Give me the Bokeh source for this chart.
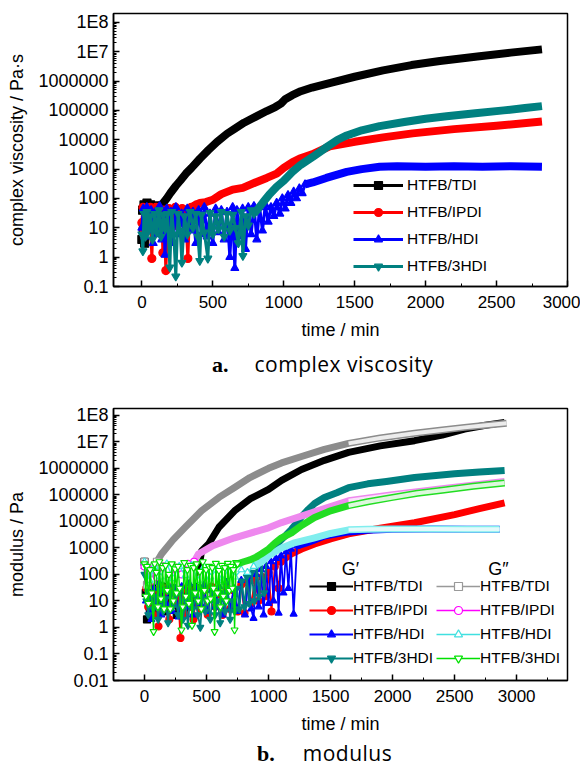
from bokeh.plotting import figure
from bokeh.models import FixedTicker, CustomJSTickFormatter, Legend, LegendItem, Label, Range1d, Div
from bokeh.layouts import column
from bokeh.embed import file_html
from bokeh.resources import INLINE

FONT = "Liberation Sans"
LEG_FONT = "Liberation Sans"

# ---------------- axis ticks / texts ----------------
x_ticks = [0, 500, 1000, 1500, 2000, 2500, 3000]
x_minor = [-250, 250, 750, 1250, 1750, 2250, 2750, 3250]
ya_ticks = [0.1, 1, 10, 100, 1000, 10000, 100000, 1000000, 10000000, 100000000]
ya_labels = ["0.1", "1", "10", "100", "1000", "10000", "100000", "1000000", "1E7", "1E8"]
yb_ticks = [0.01] + ya_ticks
yb_labels = ["0.01"] + ya_labels

series_names = ["HTFB/TDI", "HTFB/IPDI", "HTFB/HDI", "HTFB/3HDI"]
caption_a = ("a.", "complex viscosity")
caption_b = ("b.", "modulus")

# ---------------- panel a : complex viscosity ----------------
tdi_a_noise_t = [0, 5, 10, 15, 20, 25, 30, 36, 42, 48, 55, 62, 70, 78, 86, 95, 105, 115, 125]
tdi_a_noise_v = [4, 40, 8, 60, 3, 50, 15, 70, 10, 45, 25, 60, 20, 50, 35, 55, 40, 50, 55]
tdi_a_t = [125, 150, 175, 200, 240, 270, 310, 350, 410, 470, 530, 600, 650, 720, 800, 880, 940, 980,
           1010, 1060, 1120, 1200, 1330, 1500, 1700, 1900, 2100, 2380, 2600, 2820]
tdi_a_v = [55, 70, 100, 150, 270, 400, 700, 1100, 2300, 4500, 8500, 16000, 23000, 38000, 60000, 95000,
           130000, 170000, 240000, 330000, 450000, 600000, 870000, 1400000, 2300000, 3500000, 4800000,
           7000000, 9300000, 12000000]

ipdi_a_noise_t = [0, 8, 16, 24, 32, 40, 50, 60, 70, 80, 90, 100, 110, 120, 130, 140, 148, 156, 169, 180,
                  190, 200, 212, 224, 236, 248, 260, 272, 284, 296, 308, 324, 336, 348, 360, 372, 385]
ipdi_a_noise_v = [15, 50, 8, 40, 12, 45, 20, 50, 0.9, 30, 10, 50, 20, 40, 8, 35, 1.4, 40, 0.35, 15,
                  45, 10, 35, 20, 50, 12, 40, 25, 45, 15, 40, 0.9, 35, 50, 40, 55, 60]
ipdi_a_t = [385, 408, 450, 500, 560, 640, 711, 800, 880, 950, 1000, 1060, 1113, 1200, 1324, 1500, 1700,
            1908, 2200, 2500, 2820]
ipdi_a_v = [60, 70, 75, 90, 140, 200, 230, 350, 500, 700, 1100, 1700, 2300, 3200, 6000, 8500, 12000,
            16500, 23000, 30000, 42000]

hdi_a_noise_t = [0, 10, 20, 35, 50, 65, 80, 95, 110, 125, 140, 155, 163, 175, 190, 205, 220, 240, 260, 280,
                 300, 320, 340, 360, 380, 400, 420, 440, 460, 480, 500, 520, 540, 560, 580, 600, 620, 640,
                 655, 670, 690, 710, 730, 750, 770, 790, 810, 830, 850, 870, 890, 910, 930, 950, 972, 990,
                 1010, 1030, 1050, 1070, 1090, 1110, 1130, 1150]
hdi_a_noise_v = [10, 45, 5, 50, 8, 40, 3, 35, 6, 55, 4, 30, 1.2, 45, 7, 35, 3, 50, 6, 30,
                 4, 45, 8, 35, 3, 40, 6, 50, 5, 30, 3, 45, 7, 40, 4, 35, 1.0, 50,
                 0.42, 40, 5, 45, 1.9, 50, 6, 55, 4, 50, 8, 60, 16, 50, 25, 70, 30, 100,
                 45, 130, 70, 170, 100, 220, 150, 300]
hdi_a_t = [1150, 1204, 1300, 1444, 1550, 1676, 1800, 2000, 2200, 2400, 2600, 2820]
hdi_a_v = [300, 350, 500, 800, 1000, 1200, 1250, 1200, 1250, 1200, 1250, 1200]

hdi3_a_noise_t = [0, 7, 15, 25, 35, 45, 60, 75, 90, 105, 120, 135, 150, 165, 180, 197, 210, 225, 239, 255,
                  270, 282, 300, 320, 340, 360, 380, 395, 408, 420, 440, 465, 480, 500, 520, 540, 560, 580,
                  600, 620, 640, 660, 680, 700, 712, 730, 750, 770, 790]
hdi3_a_noise_v = [6, 1.6, 30, 5, 35, 8, 25, 4, 30, 7, 40, 5, 28, 9, 30, 0.45, 35, 6, 0.22, 30,
                  8, 0.65, 25, 6, 35, 10, 30, 5, 0.75, 28, 7, 0.9, 32, 6, 25, 9, 35, 5,
                  30, 8, 28, 10, 3, 35, 1.1, 25, 12, 40, 30]
hdi3_a_t = [790, 820, 860, 900, 950, 1000, 1060, 1120, 1204, 1300, 1380, 1444, 1550, 1676, 1850, 2000,
            2148, 2350, 2550, 2700, 2820]
hdi3_a_v = [30, 45, 80, 140, 250, 400, 800, 1400, 2600, 5500, 10000, 14000, 21000, 29000, 40000, 52000,
            63000, 80000, 100000, 120000, 140000]

# ---------------- panel b : modulus ----------------
# G' (storage modulus)
tdi_g1_noise_t = [0, 10, 20, 30, 45, 60, 80, 100, 120, 140, 160, 180, 200, 230, 260, 290, 320, 350, 380, 410, 440]
tdi_g1_noise_v = [300, 20, 2, 40, 5, 30, 3, 25, 8, 35, 4, 20, 6, 30, 3, 25, 5, 20, 8, 30, 200]
tdi_g1_t = [440, 460, 516, 600, 726, 850, 1000, 1105, 1266, 1450, 1645, 1900, 2177, 2400, 2580, 2750, 2903]
tdi_g1_v = [200, 770, 1400, 6000, 25000, 70000, 160000, 350000, 900000, 2000000, 4000000, 7000000,
            11000000, 18000000, 30000000, 42000000, 54000000]

ipdi_g1_noise_t = [0, 15, 30, 50, 70, 90, 113, 130, 150, 175, 200, 225, 250, 270, 290, 310, 330, 350, 375, 395,
                   420, 450, 480, 510, 540, 570, 600, 630, 660, 690, 720, 750, 780, 806, 830, 860, 890, 920,
                   950, 980, 1000, 1024, 1050, 1081, 1100]
ipdi_g1_noise_v = [300, 30, 6, 40, 3, 25, 1.1, 35, 5, 30, 2, 25, 8, 20, 0.4, 30, 3, 25, 6, 2,
                   30, 5, 25, 3, 35, 6, 20, 3, 30, 5, 25, 4, 40, 3.5, 50, 8, 60, 10,
                   80, 15, 120, 4, 200, 30, 300]
ipdi_g1_t = [1100, 1185, 1266, 1371, 1500, 1645, 1900, 2177, 2500, 2700, 2903]
ipdi_g1_v = [300, 600, 900, 1400, 2200, 3400, 5500, 8900, 18000, 30000, 50000]

hdi_g1_noise_t = [0, 12, 25, 40, 56, 75, 95, 115, 135, 155, 175, 200, 225, 250, 275, 300, 330, 360, 390, 420,
                  450, 480, 510, 540, 570, 600, 630, 660, 690, 720, 750, 780, 810, 840, 860, 879, 900, 920,
                  940, 960, 980, 1000, 1020, 1040, 1060, 1081, 1100, 1120, 1140, 1160, 1180, 1202, 1230]
hdi_g1_noise_v = [200, 10, 40, 4, 2, 30, 6, 50, 3, 25, 8, 40, 4, 30, 2.5, 35, 6, 45, 3, 30,
                  8, 40, 4, 25, 6, 35, 3, 50, 5, 30, 4, 60, 3, 80, 5, 2.2, 100, 6,
                  150, 3, 200, 8, 300, 10, 400, 3.5, 500, 20, 700, 30, 900, 3.2, 1200]
hdi_g1_t = [1230, 1300, 1371, 1450, 1550, 1645, 1800, 2000, 2300, 2600, 2863]
hdi_g1_v = [1200, 1500, 2000, 2800, 3400, 4000, 4600, 5000, 5100, 5000, 5000]

hdi3_g1_noise_t = [0, 15, 30, 50, 70, 90, 110, 130, 150, 170, 190, 210, 230, 250, 270, 290, 310, 330, 350, 370,
                   390, 410, 430, 450, 470, 490, 510, 530, 550, 570, 590, 610, 630, 650, 670, 690, 710, 726,
                   745, 765, 785, 806, 825, 845, 865, 885, 905, 925, 944, 965, 985]
hdi3_g1_noise_v = [100, 10, 3, 20, 5, 15, 2, 25, 4, 12, 1.5, 20, 6, 15, 3, 25, 2, 10, 1.2, 20,
                   5, 15, 3, 1.0, 25, 4, 12, 2, 18, 3, 10, 1.5, 20, 4, 30, 2, 10, 4,
                   30, 5, 56, 6, 80, 8, 120, 10, 200, 15, 300, 20, 500]
hdi3_g1_t = [985, 1000, 1030, 1060, 1100, 1140, 1185, 1230, 1266, 1320, 1371, 1450, 1550, 1645, 1800, 1950,
             2177, 2350, 2500, 2700, 2903]
hdi3_g1_v = [500, 600, 900, 1300, 2000, 3000, 5000, 9000, 15000, 28000, 47000, 80000, 120000, 186000,
             260000, 320000, 450000, 540000, 620000, 720000, 830000]

# G'' (loss modulus)
tdi_g2_noise_t = [0, 20, 40, 60, 80, 100]
tdi_g2_noise_v = [300, 40, 150, 60, 200, 300]
tdi_g2_t = [100, 137, 230, 323, 460, 600, 726, 850, 1000, 1105, 1266, 1450, 1645, 1900, 2177, 2400, 2580,
            2750, 2919]
tdi_g2_v = [300, 590, 2000, 5700, 25000, 80000, 190000, 450000, 1000000, 1600000, 2800000, 5200000,
            8700000, 14000000, 21000000, 28000000, 35000000, 42000000, 50000000]

ipdi_g2_noise_t = [0, 30, 60, 100, 150, 200, 250, 300, 350, 400]
ipdi_g2_noise_v = [200, 50, 150, 80, 200, 60, 180, 100, 250, 300]
ipdi_g2_t = [400, 435, 550, 726, 1000, 1105, 1266, 1450, 1645, 2000, 2400, 2903]
ipdi_g2_v = [300, 590, 1200, 2400, 5700, 9000, 16000, 30000, 60000, 100000, 170000, 320000]

hdi_g2_noise_t = [0, 40, 80, 130, 180, 230, 280, 330, 380, 430, 480, 530, 580, 630, 680, 730, 780, 830, 880]
hdi_g2_noise_v = [300, 60, 200, 80, 250, 70, 200, 90, 220, 60, 200, 80, 150, 60, 180, 80, 150, 120, 200]
hdi_g2_t = [880, 944, 1000, 1105, 1200, 1371, 1500, 1645, 1800, 2000, 2300, 2600, 2863]
hdi_g2_v = [200, 300, 500, 1000, 1500, 2400, 3500, 4800, 5000, 5200, 5100, 5000, 5000]

hdi3_g2_noise_t = [0, 10, 20, 32, 45, 58, 73, 82, 95, 108, 120, 133, 146, 158, 170, 183, 196, 208, 220, 233,
                   246, 258, 270, 283, 298, 308, 320, 333, 346, 358, 370, 383, 396, 408, 420, 433, 446, 458,
                   470, 483, 496, 508, 520, 533, 546, 556, 565, 575, 588, 600, 612, 624, 636, 648, 660, 672,
                   684, 696, 708, 717, 726, 738, 750]
hdi3_g2_noise_v = [250, 15, 200, 8, 150, 20, 0.7, 250, 120, 6, 300, 12, 180, 5, 220, 25, 100, 5, 250, 10,
                   160, 20, 200, 30, 0.8, 6, 280, 15, 150, 8, 220, 1.2, 180, 20, 250, 10, 130, 5,
                   300, 25, 150, 10, 200, 12, 180, 30, 0.7, 260, 20, 140, 6, 220, 15, 180, 10, 260,
                   25, 200, 30, 150, 0.8, 280, 250]
hdi3_g2_t = [750, 800, 850, 900, 944, 1000, 1050, 1105, 1185, 1266, 1371, 1500, 1645, 1800, 2000, 2200,
             2400, 2650, 2903]
hdi3_g2_v = [250, 300, 350, 450, 600, 900, 1500, 2400, 3700, 7000, 14000, 25000, 39000, 55000, 80000,
             115000, 150000, 210000, 280000]

for a, b in [(tdi_a_noise_t, tdi_a_noise_v), (tdi_a_t, tdi_a_v), (ipdi_a_noise_t, ipdi_a_noise_v),
             (ipdi_a_t, ipdi_a_v), (hdi_a_noise_t, hdi_a_noise_v), (hdi_a_t, hdi_a_v),
             (hdi3_a_noise_t, hdi3_a_noise_v), (hdi3_a_t, hdi3_a_v),
             (tdi_g1_noise_t, tdi_g1_noise_v), (tdi_g1_t, tdi_g1_v), (ipdi_g1_noise_t, ipdi_g1_noise_v),
             (ipdi_g1_t, ipdi_g1_v), (hdi_g1_noise_t, hdi_g1_noise_v), (hdi_g1_t, hdi_g1_v),
             (hdi3_g1_noise_t, hdi3_g1_noise_v), (hdi3_g1_t, hdi3_g1_v),
             (tdi_g2_noise_t, tdi_g2_noise_v), (tdi_g2_t, tdi_g2_v), (ipdi_g2_noise_t, ipdi_g2_noise_v),
             (ipdi_g2_t, ipdi_g2_v), (hdi_g2_noise_t, hdi_g2_noise_v), (hdi_g2_t, hdi_g2_v),
             (hdi3_g2_noise_t, hdi3_g2_noise_v), (hdi3_g2_t, hdi3_g2_v)]:
    assert len(a) == len(b), (len(a), len(b), a[:3])

PAGE_W = 580


def log_formatter(ticks, labels):
    return CustomJSTickFormatter(args=dict(vals=ticks, labs=labels), code="""
        for (let i = 0; i < vals.length; i++) {
            if (Math.abs(Math.log10(tick) - Math.log10(vals[i])) < 1e-6) { return labs[i]; }
        }
        return "";
    """)


def make_fig(height, xr, yr, top, bottom, ylabel, yticks, ylabels):
    p = figure(width=PAGE_W, height=height, x_range=Range1d(*xr), y_range=Range1d(*yr),
               y_axis_type="log", output_backend="svg", toolbar_location=None,
               min_border_left=113, min_border_right=13, min_border_top=top,
               min_border_bottom=bottom)
    p.grid.visible = False
    p.outline_line_color = "black"
    p.outline_line_width = 1.5
    p.outline_line_alpha = 1.0
    xa = p.xaxis[0]
    ya = p.yaxis[0]
    xa.ticker = FixedTicker(ticks=x_ticks, minor_ticks=[m for m in x_minor if xr[0] < m < xr[1]])
    minors = [k * d for d in yticks for k in range(2, 10) if k * d < yr[1]]
    ya.ticker = FixedTicker(ticks=yticks, minor_ticks=minors)
    ya.formatter = log_formatter(yticks, ylabels)
    for ax in (xa, ya):
        ax.axis_line_width = 1.5
        ax.axis_line_color = "black"
        ax.major_tick_in = 6
        ax.major_tick_out = 0
        ax.minor_tick_in = 3
        ax.minor_tick_out = 0
        ax.major_tick_line_width = 1.5
        ax.minor_tick_line_width = 1
        ax.major_label_text_font = FONT
        ax.major_label_text_color = "black"
        ax.axis_label_text_font = FONT
        ax.axis_label_text_font_style = "normal"
        ax.axis_label_text_font_size = "18px"
        ax.axis_label_text_color = "black"
    xa.major_label_text_font_size = "17px"
    ya.major_label_text_font_size = "18px"
    xa.major_label_standoff = 9
    xa.axis_label_standoff = 9
    ya.major_label_standoff = 5
    ya.axis_label_standoff = 8
    xa.axis_label = "time / min"
    ya.axis_label = ylabel
    return p


def caption_div(height, parts, pad_left, gap, pad_top):
    bold, plain = parts
    html = ('<div style="margin:0;padding:%dpx 0 0 %dpx;line-height:16px;white-space:nowrap;color:black;">'
            '<span style="font-family:\'Liberation Serif\';font-weight:bold;font-size:22px;">%s</span>'
            '<span style="font-family:\'Open Sans\';font-size:21px;letter-spacing:0.5px;margin-left:%dpx;">%s</span>'
            '</div>') % (pad_top, pad_left, bold, gap, plain)
    return Div(text=html, width=PAGE_W, height=height, margin=(0, 0, 0, 0),
               styles={"overflow": "visible"})


def draw(p, nt, nv, t, v, color, marker, band, width, msize, nlw, open_marker=False, pale=None, split=None):
    p.line(t, v, line_color=band, line_width=width, line_join="round")
    if pale is not None:
        st = [a for a in t if a >= split]
        sv = [b for a, b in zip(t, v) if a >= split]
        p.line(st, sv, line_color=pale, line_width=width - 3, line_join="round")
    ln = p.line(nt + t[:1], nv + v[:1], line_color=color, line_width=nlw)
    sc = p.scatter(nt, nv, marker=marker, size=msize, line_color=color,
                   fill_color="white" if open_marker else color, line_width=1.2)
    return [ln, sc]


def style_legend(leg, gw, gh, spacing, standoff, size):
    leg.glyph_width = gw
    leg.glyph_height = gh
    leg.label_height = gh
    leg.spacing = spacing
    leg.padding = 0
    leg.margin = 0
    leg.label_standoff = standoff
    leg.background_fill_alpha = 0
    leg.border_line_alpha = 0
    leg.label_text_font = LEG_FONT
    leg.label_text_font_size = size
    leg.label_text_color = "black"


markers = ["square", "circle", "triangle", "inverted_triangle"]

# ================= panel a =================
pa = make_fig(348, (-200, 3000), (0.1, 2.0e8), 13, 62, "complex viscosity / Pa\u00b7s", ya_ticks, ya_labels)
a_data = [(tdi_a_noise_t, tdi_a_noise_v, tdi_a_t, tdi_a_v, "#000000"),
          (ipdi_a_noise_t, ipdi_a_noise_v, ipdi_a_t, ipdi_a_v, "#ff0000"),
          (hdi_a_noise_t, hdi_a_noise_v, hdi_a_t, hdi_a_v, "#0000ff"),
          (hdi3_a_noise_t, hdi3_a_noise_v, hdi3_a_t, hdi3_a_v, "#008080")]
items_a = []
for (nt, nv, t, v, c), mk, name in zip(a_data, markers, series_names):
    rs = draw(pa, nt, nv, t, v, c, mk, c, 8, 8, 3.0)
    items_a.append(LegendItem(label=name, renderers=rs))
leg_a = Legend(items=items_a, location=(240, 10))
style_legend(leg_a, 50, 20, 7, 4, "15.5px")
pa.add_layout(leg_a)

cap_a = caption_div(42, caption_a, 212, 26, 8)

# ================= panel b =================
pb = make_fig(352, (-250, 3410), (0.01, 1.8e8), 18, 62, "modulus / Pa", yb_ticks, yb_labels)
g1_data = [(tdi_g1_noise_t, tdi_g1_noise_v, tdi_g1_t, tdi_g1_v, "#000000"),
           (ipdi_g1_noise_t, ipdi_g1_noise_v, ipdi_g1_t, ipdi_g1_v, "#ff0000"),
           (hdi_g1_noise_t, hdi_g1_noise_v, hdi_g1_t, hdi_g1_v, "#0000ff"),
           (hdi3_g1_noise_t, hdi3_g1_noise_v, hdi3_g1_t, hdi3_g1_v, "#008080")]
g2_data = [(tdi_g2_noise_t, tdi_g2_noise_v, tdi_g2_t, tdi_g2_v, "#999999", "#8c8c8c", "#ececec"),
           (ipdi_g2_noise_t, ipdi_g2_noise_v, ipdi_g2_t, ipdi_g2_v, "#ff00ff", "#ee88ee", "#fbe3fb"),
           (hdi_g2_noise_t, hdi_g2_noise_v, hdi_g2_t, hdi_g2_v, "#40e0e0", "#80eeee", "#e3fafa"),
           (hdi3_g2_noise_t, hdi3_g2_noise_v, hdi3_g2_t, hdi3_g2_v, "#00e000", "#22dd22", "#dcf8dc")]
items_g1 = []
for (nt, nv, t, v, c), mk, name in zip(g1_data, markers, series_names):
    rs = draw(pb, nt, nv, t, v, c, mk, c, 7, 7, 1.8)
    items_g1.append(LegendItem(label=name, renderers=rs))
items_g2 = []
for (nt, nv, t, v, c, band, pale), mk, name in zip(g2_data, markers, series_names):
    rs = draw(pb, nt, nv, t, v, c, mk, band, 7, 7, 1.4, open_marker=True, pale=pale, split=1645)
    items_g2.append(LegendItem(label=name, renderers=rs))

leg_g1 = Legend(items=items_g1, location=(196, 12))
style_legend(leg_g1, 44, 20, 4, 0, "15.5px")
leg_g2 = Legend(items=items_g2, location=(323, 12))
style_legend(leg_g2, 44, 20, 4, 0, "15.5px")
pb.add_layout(leg_g1)
pb.add_layout(leg_g2)

pb.add_layout(Label(x=237, y=112, x_units="screen", y_units="screen", text="G\u2032",
                    text_font=FONT, text_font_size="18px", text_align="center",
                    text_baseline="alphabetic", text_color="black"))
pb.add_layout(Label(x=385, y=112, x_units="screen", y_units="screen", text="G\u2033",
                    text_font=FONT, text_font_size="18px", text_align="center",
                    text_baseline="alphabetic", text_color="black"))

cap_b = caption_div(24, caption_b, 257, 28, 3)

layout = column(pa, cap_a, pb, cap_b, spacing=0)
open("out.html", "w").write(file_html(layout, INLINE))
